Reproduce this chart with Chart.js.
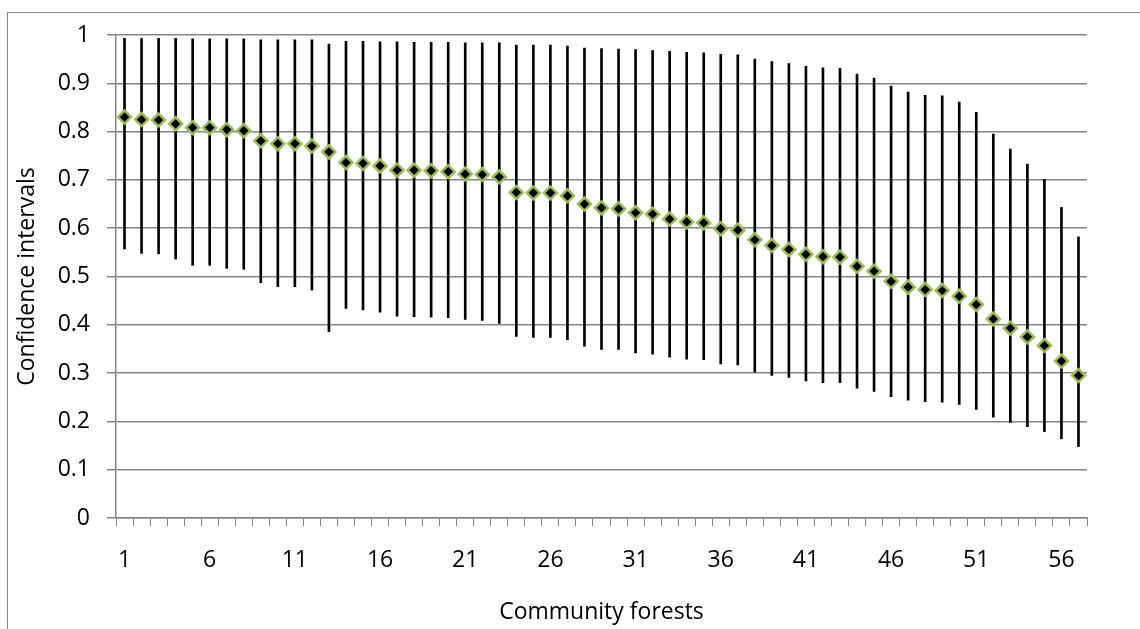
<!DOCTYPE html>
<html>
<head>
<meta charset="utf-8">
<script src="https://cdn.jsdelivr.net/npm/chart.js@4.4.1/dist/chart.umd.min.js"></script>
<style>
    body { margin: 0; background: #fff; }
    #chartBox { width: 1140px; height: 629px; }
</style>
</head>
<body>
<div id="chartBox"><canvas id="ciChart" width="1140" height="629"></canvas></div>
<script>
// Data
const forests = [
    '1', '2', '3', '4', '5', '6', '7', '8', '9', '10',
    '11', '12', '13', '14', '15', '16', '17', '18', '19', '20',
    '21', '22', '23', '24', '25', '26', '27', '28', '29', '30',
    '31', '32', '33', '34', '35', '36', '37', '38', '39', '40',
    '41', '42', '43', '44', '45', '46', '47', '48', '49', '50',
    '51', '52', '53', '54', '55', '56', '57'
];

const estimate = [
    0.830, 0.825, 0.824, 0.816, 0.808, 0.808, 0.804, 0.802, 0.781, 0.775,
    0.775, 0.770, 0.758, 0.736, 0.734, 0.729, 0.720, 0.720, 0.719, 0.717,
    0.712, 0.711, 0.706, 0.674, 0.673, 0.673, 0.667, 0.650, 0.642, 0.640,
    0.632, 0.629, 0.619, 0.613, 0.611, 0.599, 0.596, 0.576, 0.564, 0.556,
    0.546, 0.541, 0.540, 0.521, 0.511, 0.490, 0.478, 0.473, 0.471, 0.459,
    0.442, 0.412, 0.393, 0.375, 0.357, 0.325, 0.295
];

const upper = [
    0.993, 0.993, 0.993, 0.993, 0.992, 0.992, 0.992, 0.992, 0.990, 0.990,
    0.990, 0.990, 0.981, 0.987, 0.987, 0.986, 0.986, 0.985, 0.985, 0.985,
    0.984, 0.984, 0.984, 0.979, 0.979, 0.979, 0.977, 0.973, 0.972, 0.971,
    0.970, 0.968, 0.966, 0.964, 0.963, 0.960, 0.959, 0.950, 0.945, 0.941,
    0.935, 0.932, 0.931, 0.919, 0.911, 0.894, 0.882, 0.875, 0.874, 0.861,
    0.840, 0.795, 0.764, 0.733, 0.701, 0.643, 0.582
];

const lower = [
    0.557, 0.548, 0.547, 0.536, 0.523, 0.523, 0.517, 0.515, 0.487, 0.479,
    0.479, 0.472, 0.386, 0.434, 0.431, 0.426, 0.418, 0.417, 0.416, 0.415,
    0.411, 0.409, 0.403, 0.376, 0.374, 0.374, 0.369, 0.356, 0.349, 0.349,
    0.342, 0.339, 0.333, 0.329, 0.328, 0.319, 0.317, 0.302, 0.295, 0.291,
    0.284, 0.280, 0.280, 0.269, 0.262, 0.251, 0.244, 0.241, 0.240, 0.235,
    0.225, 0.209, 0.198, 0.189, 0.179, 0.164, 0.148
];

// only every 5th forest gets a label
const xTickEvery = 5;

const gridGrey = '#868686';

Chart.defaults.font.family = "'Open Sans', sans-serif";
Chart.defaults.font.size = 23;
Chart.defaults.color = '#000';

// Excel-like chart area border
const outerBorder = {
    id: 'outerBorder',
    beforeDraw(chart) {
        const ctx = chart.ctx;
        ctx.save();
        ctx.strokeStyle = gridGrey;
        ctx.lineWidth = 1;
        ctx.strokeRect(7.5, 12.5, 2000, 2000);
        ctx.restore();
    }
};

const ctx = document.getElementById('ciChart').getContext('2d');
new Chart(ctx, {
    data: {
        labels: forests,
        datasets: [
            {
                type: 'line',
                label: 'Estimate',
                data: estimate,
                showLine: false,
                pointStyle: 'rectRot',
                pointRadius: 6.5,
                pointBackgroundColor: '#000',
                pointBorderColor: '#9bbb59',
                pointBorderWidth: 2.5,
                order: 0
            },
            {
                type: 'bar',
                label: 'Interval',
                data: lower.map((lo, i) => [lo, upper[i]]),
                backgroundColor: '#000',
                barThickness: 2,
                order: 1
            }
        ]
    },
    options: {
        responsive: false,
        animation: false,
        layout: {
            padding: { top: 35, right: 53, left: 0, bottom: 0 }
        },
        plugins: {
            legend: { display: false },
            tooltip: { enabled: false }
        },
        scales: {
            x: {
                offset: true,
                grid: {
                    offset: true,
                    drawOnChartArea: false,
                    drawTicks: true,
                    tickLength: 8,
                    color: gridGrey
                },
                border: { color: gridGrey, width: 1.5 },
                ticks: {
                    autoSkip: false,
                    maxRotation: 0,
                    padding: 21,
                    callback: function(value, index) {
                        return index % xTickEvery === 0 ? this.getLabelForValue(value) : '';
                    }
                },
                title: {
                    display: true,
                    text: 'Community forests',
                    padding: { top: 0, bottom: 3 }
                },
                afterFit: scale => { scale.height = 111; }
            },
            y: {
                min: 0,
                max: 1,
                ticks: {
                    stepSize: 0.1,
                    padding: 17,
                    callback: v => String(+v.toFixed(1))
                },
                grid: {
                    color: gridGrey,
                    lineWidth: 1.5,
                    tickLength: 9
                },
                border: { color: gridGrey, width: 1.5 },
                title: {
                    display: true,
                    text: 'Confidence intervals',
                    padding: { top: 14, bottom: 0 }
                },
                afterFit: scale => { scale.width = 116; }
            }
        }
    },
    plugins: [outerBorder]
});
</script>
</body>
</html>
